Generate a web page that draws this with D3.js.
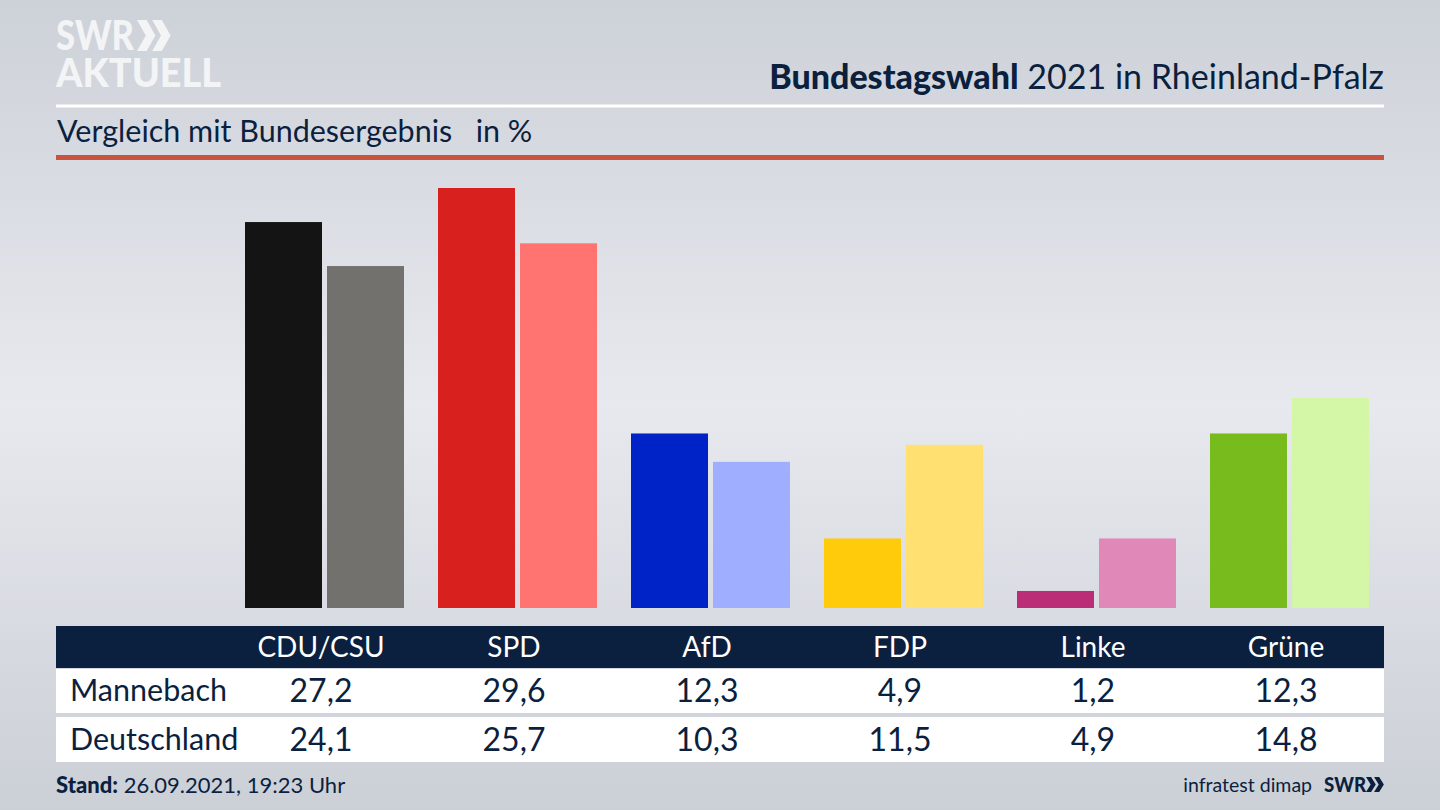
<!DOCTYPE html>
<html lang="de">
<head>
<meta charset="utf-8">
<title>Bundestagswahl 2021 in Rheinland-Pfalz</title>
<script src="https://cdn.jsdelivr.net/npm/d3@7"></script>
<style>
    html, body { margin: 0; padding: 0; background: #d5d8de; }
    svg { display: block; }
    text { font-family: Lato, "Noto Sans", sans-serif; fill: #0b1f3f; }
</style>
</head>
<body>
<div id="chart"></div>
<script>
var parties     = ['CDU/CSU', 'SPD', 'AfD', 'FDP', 'Linke', 'Grüne'];
var regions     = ['Mannebach', 'Deutschland'];
var mannebach   = [27.2, 29.6, 12.3, 4.9, 1.2, 12.3];
var deutschland = [24.1, 25.7, 10.3, 11.5, 4.9, 14.8];
var colorsLocal = ['#141414', '#d8201f', '#0023c8', '#ffcb0a', '#bc2d78', '#78bb1c'];
var colorsFed   = ['#73716e', '#ff7470', '#9faeff', '#ffe070', '#e088b8', '#d3f7a6'];

var width = 1440, height = 810,
    left = 56, right = 1384,
    navy = '#0b1f3f',
    logoWhite = '#f3f4f6',
    comma = d3.format('.1f');

var svg = d3.select('#chart').append('svg')
    .attr('width', width)
    .attr('height', height);

// Background
var grad = svg.append('defs').append('linearGradient')
    .attr('id', 'bg')
    .attr('x1', 0).attr('x2', 0).attr('y1', 0).attr('y2', 1);
[[0, '#cdd1d8'], [0.5, '#e7e9ee'], [1, '#cbcfd6']].forEach(function (s) {
    grad.append('stop').attr('offset', s[0]).attr('stop-color', s[1]);
});
svg.append('rect').attr('width', width).attr('height', height).attr('fill', 'url(#bg)');

// Logo
svg.append('text').attr('x', 56).attr('y', 50)
    .style('fill', logoWhite).style('font-size', '41px').style('font-weight', 900)
    .attr('textLength', 78).attr('lengthAdjust', 'spacingAndGlyphs')
    .text('SWR');
svg.append('text').attr('x', 56).attr('y', 87)
    .style('fill', logoWhite).style('font-size', '40px').style('font-weight', 900)
    .attr('textLength', 165).attr('lengthAdjust', 'spacingAndGlyphs')
    .text('AKTUELL');
function chevrons(x, y, w, h, color) {
    [0, 0.95].forEach(function (k) {
        var x0 = x + k * w;
        svg.append('path')
            .attr('fill', color)
            .attr('d', 'M' + x0 + ',' + y + 'h' + (w * 0.6) + 'l' + (w * 0.55) + ',' + (h / 2) +
                'l' + (-w * 0.55) + ',' + (h / 2) + 'h' + (-w * 0.6) + 'l' + (w * 0.55) + ',' + (-h / 2) + 'z');
    });
}
chevrons(137, 20, 16, 31, logoWhite);

// Head
var title = svg.append('text').attr('x', right).attr('y', 89)
    .attr('text-anchor', 'end').style('font-size', '34px');
title.append('tspan').style('font-weight', 900).text('Bundestagswahl');
title.append('tspan').text(' 2021 in Rheinland-Pfalz');

svg.append('rect').attr('x', left).attr('y', 104.5).attr('width', right - left).attr('height', 3).attr('fill', '#fff');
svg.append('text').attr('x', left + 1).attr('y', 142)
    .style('font-size', '30.5px').attr('xml:space', 'preserve')
    .text('Vergleich mit Bundesergebnis   in %');
svg.append('rect').attr('x', left).attr('y', 155).attr('width', right - left).attr('height', 5).attr('fill', '#c9533c');

// Scales
var x = d3.scaleBand().domain(d3.range(parties.length)).range([228, 1386]);
var xInner = d3.scaleBand().domain([0, 1]).range([17, 176]).paddingInner(0.061);
var y = d3.scaleLinear().domain([0, 29.6]).range([608, 188]);

// Bars
var groups = svg.selectAll('.party')
    .data(parties)
    .enter().append('g')
        .attr('class', 'party')
        .attr('transform', function (d, i) { return 'translate(' + x(i) + ',0)'; });

groups.append('rect')
    .attr('x', xInner(0))
    .attr('y', function (d, i) { return y(mannebach[i]); })
    .attr('width', xInner.bandwidth())
    .attr('height', function (d, i) { return y(0) - y(mannebach[i]); })
    .attr('fill', function (d, i) { return colorsLocal[i]; });

groups.append('rect')
    .attr('x', xInner(1))
    .attr('y', function (d, i) { return y(deutschland[i]); })
    .attr('width', xInner.bandwidth())
    .attr('height', function (d, i) { return y(0) - y(deutschland[i]); })
    .attr('fill', function (d, i) { return colorsFed[i]; });

// Table
// NOTE: columns are centered on the right edge of the first bar
function colCenter(i) { return x(i) + xInner(0) + xInner.bandwidth() - 1; }

svg.append('rect').attr('x', left).attr('y', 626).attr('width', right - left).attr('height', 42).attr('fill', navy);
svg.append('rect').attr('x', left).attr('y', 669).attr('width', right - left).attr('height', 44).attr('fill', '#fff');
svg.append('rect').attr('x', left).attr('y', 717).attr('width', right - left).attr('height', 45).attr('fill', '#fff');

svg.selectAll('.head')
    .data(parties)
    .enter().append('text')
        .attr('class', 'head')
        .attr('x', function (d, i) { return colCenter(i); })
        .attr('y', 657)
        .attr('text-anchor', 'middle')
        .style('fill', '#fff')
        .style('font-size', '28px')
        .text(function (d) { return d; });

[mannebach, deutschland].forEach(function (row, r) {
    var base = r === 0 ? 701 : 750;
    svg.append('text').attr('x', 70).attr('y', base)
        .style('font-size', '30.5px')
        .text(regions[r]);
    svg.selectAll('.val' + r)
        .data(row)
        .enter().append('text')
            .attr('class', 'val' + r)
            .attr('x', function (d, i) { return colCenter(i); })
            .attr('y', base + 1)
            .attr('text-anchor', 'middle')
            .style('font-size', '32px')
            .text(function (d) { return comma(d).replace('.', ','); });
});

// Footer
var stand = svg.append('text').attr('x', left).attr('y', 793).style('font-size', '22px');
stand.append('tspan').style('font-weight', 900).text('Stand:');
stand.append('tspan').text(' 26.09.2021, 19:23 Uhr');

svg.append('text').attr('x', 1312).attr('y', 792)
    .attr('text-anchor', 'end').style('font-size', '19.5px')
    .text('infratest dimap');
svg.append('text').attr('x', 1324).attr('y', 792)
    .style('font-size', '21px').style('font-weight', 900)
    .attr('textLength', 42).attr('lengthAdjust', 'spacingAndGlyphs')
    .text('SWR');
chevrons(1366, 777, 8.5, 15, navy);
</script>
</body>
</html>
